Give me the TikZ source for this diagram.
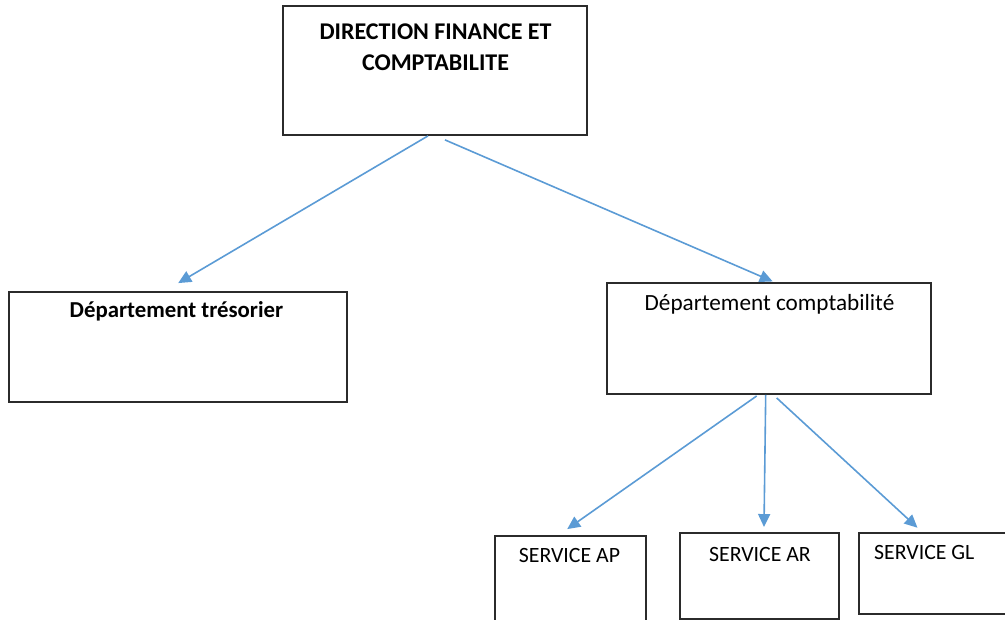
\documentclass[tikz,border=0pt]{standalone}
\usepackage{fontspec}
\setmainfont{Carlito}
\usetikzlibrary{arrows.meta}
\definecolor{linkblue}{HTML}{5B9BD5}
\definecolor{frame}{HTML}{2B2B2B}
\begin{document}
\begin{tikzpicture}[x=1pt,y=-1pt,
  box/.style={draw=frame, line width=1.8pt, inner sep=0pt, fill=white},
  lbl/.style={inner sep=0pt, anchor=base},
  link/.style={draw=linkblue, line width=1.6pt,
    -{Triangle[length=13pt,width=12pt]}}]
\useasboundingbox (0,0) rectangle (1005,620);
\clip (0,0) rectangle (1005,620);

% boxes of the organisation chart
\node[box, minimum width=303.4pt, minimum height=129pt] (dir) at (435,70.5) {};
\node[box, minimum width=338.3pt, minimum height=110pt] (tres) at (178.2,347) {};
\node[box, minimum width=324pt, minimum height=110.7pt] (compta) at (768.7,338.7) {};
\node[box, minimum width=151pt, minimum height=104pt] (ap) at (570.2,588) {};
\node[box, minimum width=159pt, minimum height=86.3pt] (ar) at (759.5,575.8) {};
\node[box, minimum width=153pt, minimum height=81.3pt] (gl) at (935.5,573.3) {};

% labels
\node[lbl, anchor=north, align=center, font=\fontsize{24}{31}\selectfont\bfseries]
  (dirtext) at (435.5,24) {DIRECTION FINANCE ET\\COMPTABILITE};
\node[lbl, font=\fontsize{22.8}{28}\selectfont\bfseries] (trestext) at (176.5,318) {Département trésorier};
\node[lbl, font=\fontsize{23.2}{28}\selectfont] (comptatext) at (769.5,311) {Département comptabilité};
\node[lbl, font=\fontsize{21.8}{26}\selectfont] (aptext) at (569.5,562) {SERVICE AP};
\node[lbl, font=\fontsize{21.8}{26}\selectfont] (artext) at (760,561) {SERVICE AR};
\node[lbl, anchor=base west, font=\fontsize{21.8}{26}\selectfont] (gltext) at (874,559) {SERVICE GL};

% connectors
\draw[link] ([xshift=-7pt]dir.south) -- ([yshift=8pt]tres.north);
\draw[link] ([xshift=10pt,yshift=-4pt]dir.south) -- ([xshift=4pt,yshift=1pt]compta.north);
\draw[link] ([xshift=-12pt,yshift=-1pt]compta.south) -- ([xshift=-3pt,yshift=6pt]ap.north);
\draw[link] ([xshift=-3pt]compta.south) -- ([xshift=4.5pt,yshift=4.7pt]ar.north);
\draw[link] ([xshift=8pt,yshift=-3pt]compta.south) -- ([xshift=-18pt,yshift=4pt]gl.north);
\end{tikzpicture}
\end{document}
